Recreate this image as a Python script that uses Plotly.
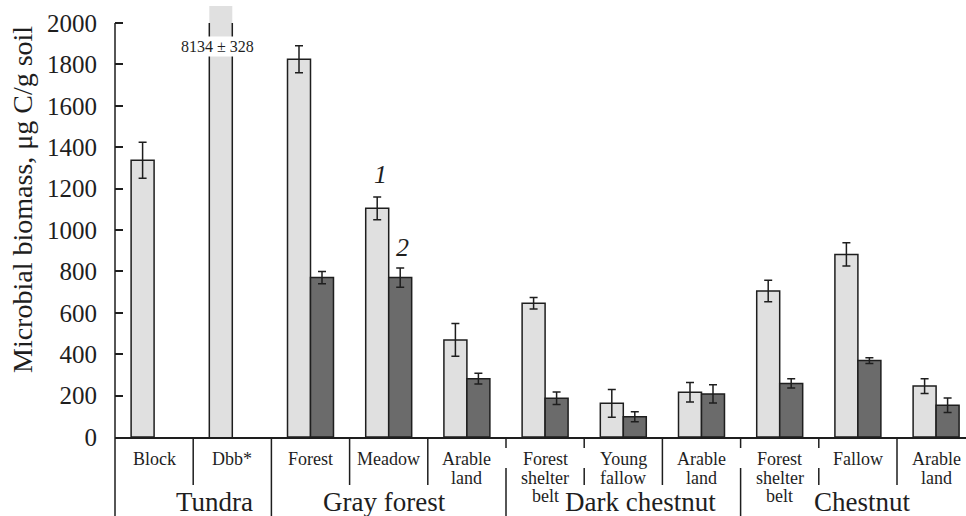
import plotly.graph_objects as go

# ---------------- data ----------------
categories = ["Block", "Dbb*", "Forest", "Meadow", "Arable land",
              "Forest shelter belt", "Young fallow", "Arable land",
              "Forest shelter belt", "Fallow", "Arable land"]
groups = ["Tundra", "Gray forest", "Dark chestnut", "Chestnut"]
group_members = [(0, 1), (2, 4), (5, 7), (8, 10)]
series1 = [1337, 8134, 1825, 1105, 469, 646, 163, 216, 705, 882, 246]
err1 = [87, 328, 65, 55, 79, 28, 67, 47, 52, 56, 36]
series2 = [None, None, 770, 770, 282, 187, 98, 208, 259, 369, 153]
err2 = [None, None, 30, 46, 26, 30, 24, 44, 22, 14, 35]
y_ticks = [0, 200, 400, 600, 800, 1000, 1200, 1400, 1600, 1800, 2000]
series_labels = ["1", "2"]

# ---------------- style ----------------
W, H = 966, 516
ML, MR, MT, MB = 115, 0, 6, 79
PH = H - MT - MB
CAT_PX = 78.2
BW = 0.294
Y_MAX_LABEL = y_ticks[-1]
Y_TOP = Y_MAX_LABEL * PH / 414.0
X_RIGHT = -0.5 + (W - ML - MR) / CAT_PX
LIGHT = "#e0e0e0"
DARK = "#6b6b6b"
INK = "#1e1e1e"
FONT = "Liberation Serif"


def py(p):
    """pixel row -> paper y"""
    return (H - MB - p) / PH


x_idx = list(range(len(categories)))

fig = go.Figure()
fig.add_trace(go.Bar(
    x=x_idx, y=series1, width=BW, offset=-BW,
    marker=dict(color=LIGHT,
                line=dict(color=INK,
                          width=[0 if v > Y_MAX_LABEL else 1.5 for v in series1])),
    error_y=dict(type="data", array=err1, color=INK, thickness=1.5, width=4),
    showlegend=False, hoverinfo="skip"))
fig.add_trace(go.Bar(
    x=x_idx, y=series2, width=BW, offset=0,
    marker=dict(color=DARK, line=dict(color=INK, width=1.5)),
    error_y=dict(type="data", array=err2, color=INK, thickness=1.5, width=4),
    showlegend=False, hoverinfo="skip"))

# side edges for bars that run off the labelled scale
ex, ey = [], []
for i, v in enumerate(series1):
    if v > Y_MAX_LABEL:
        for xe in (i - BW, i):
            ex += [xe, xe, None]
            ey += [0, Y_MAX_LABEL, None]
if ex:
    fig.add_trace(go.Scatter(x=ex, y=ey, mode="lines",
                             line=dict(color=INK, width=1.5),
                             showlegend=False, hoverinfo="skip"))

annotations = []
shapes = []

# value note for off-scale bars
for i, v in enumerate(series1):
    if v > Y_MAX_LABEL:
        annotations.append(dict(
            x=i - BW / 2, y=py(46), xref="x", yref="paper",
            text=f"{v} \u00b1 {err1[i]}", showarrow=False, xshift=-3,
            yanchor="middle",
            font=dict(family=FONT, size=16, color=INK),
            bgcolor="white", borderpad=1))

# series labels 1 / 2 above the Meadow bars
mi = categories.index("Meadow")
annotations.append(dict(x=mi - BW / 2, y=series1[mi] + err1[mi], xref="x", yref="y",
                        text="<i>" + series_labels[0] + "</i>", showarrow=False,
                        yanchor="bottom", yshift=6, xshift=3,
                        font=dict(family=FONT, size=26, color=INK)))
annotations.append(dict(x=mi + BW / 2, y=series2[mi] + err2[mi], xref="x", yref="y",
                        text="<i>" + series_labels[1] + "</i>", showarrow=False,
                        yanchor="bottom", yshift=4, xshift=2,
                        font=dict(family=FONT, size=26, color=INK)))

# category labels, one annotation per line
line_rows = [459, 477.5, 496]
for i, c in enumerate(categories):
    words = c.split(" ")
    if c == "Forest shelter belt" or len(words) == 2:
        lines = words
    else:
        lines = [c]
    for k, ln in enumerate(lines):
        annotations.append(dict(x=i, y=py(line_rows[k]), xref="x", yref="paper",
                                text=ln, showarrow=False, yanchor="middle",
                                font=dict(family=FONT, size=18, color=INK)))

# group labels
g_shift = [21, -4, 17, 5]
for g, (a, b), s in zip(groups, group_members, g_shift):
    annotations.append(dict(x=(a + b) / 2, y=py(502), xref="x", yref="paper",
                            text=g, showarrow=False, yanchor="middle", xshift=s,
                            font=dict(family=FONT, size=27, color=INK)))

# y-axis title
annotations.append(dict(x=(-ML + 22) / (W - ML - MR), y=py(200), xref="paper", yref="paper",
                        text="Microbial biomass, \u03bcg C/g soil", showarrow=False,
                        textangle=-90, xanchor="center", yanchor="middle",
                        font=dict(family=FONT, size=28, color=INK)))

# y axis line (labelled part) and left full divider
shapes.append(dict(type="line", xref="paper", yref="y", x0=0, x1=0, y0=0, y1=Y_MAX_LABEL,
                   line=dict(color=INK, width=1.5)))
shapes.append(dict(type="line", xref="paper", yref="paper", x0=0, x1=0, y0=py(H), y1=0,
                   line=dict(color=INK, width=1.5)))

# category dividers
group_bounds = {group_members[k][1] + 0.5 for k in range(len(group_members) - 1)}
three_line = [i for i, c in enumerate(categories) if c == "Forest shelter belt"]
gap_bounds = set()
for i in three_line:
    gap_bounds.add(i - 0.5)
    gap_bounds.add(i + 0.5)
for b in range(len(categories) - 1):
    xb = b + 0.5
    bottom = H if xb in group_bounds else 485
    if xb in gap_bounds:
        segs = [(437, 448), (468, bottom)]
    else:
        segs = [(437, bottom)]
    for (p0, p1) in segs:
        shapes.append(dict(type="line", xref="x", yref="paper", x0=xb, x1=xb,
                           y0=py(p1), y1=py(p0), line=dict(color=INK, width=1.5)))

fig.update_layout(
    width=W, height=H,
    margin=dict(l=ML, r=MR, t=MT, b=MB, pad=0),
    paper_bgcolor="white", plot_bgcolor="white",
    barmode="overlay",
    showlegend=False,
    xaxis=dict(range=[-0.5, X_RIGHT], showticklabels=False, ticks="",
               showgrid=False, zeroline=False, showline=True,
               linecolor=INK, linewidth=1.5, fixedrange=True),
    yaxis=dict(range=[0, Y_TOP], tickvals=y_ticks, ticks="inside", ticklen=8,
               tickwidth=1.5, tickcolor=INK, showgrid=False, zeroline=False,
               showline=False, ticklabelstandoff=17,
               tickfont=dict(family=FONT, size=25, color=INK), fixedrange=True),
    annotations=annotations,
    shapes=shapes,
)

fig.write_html("out.html", config={"displayModeBar": False},
               post_script="document.body.style.margin='0';document.body.style.overflow='hidden';")
